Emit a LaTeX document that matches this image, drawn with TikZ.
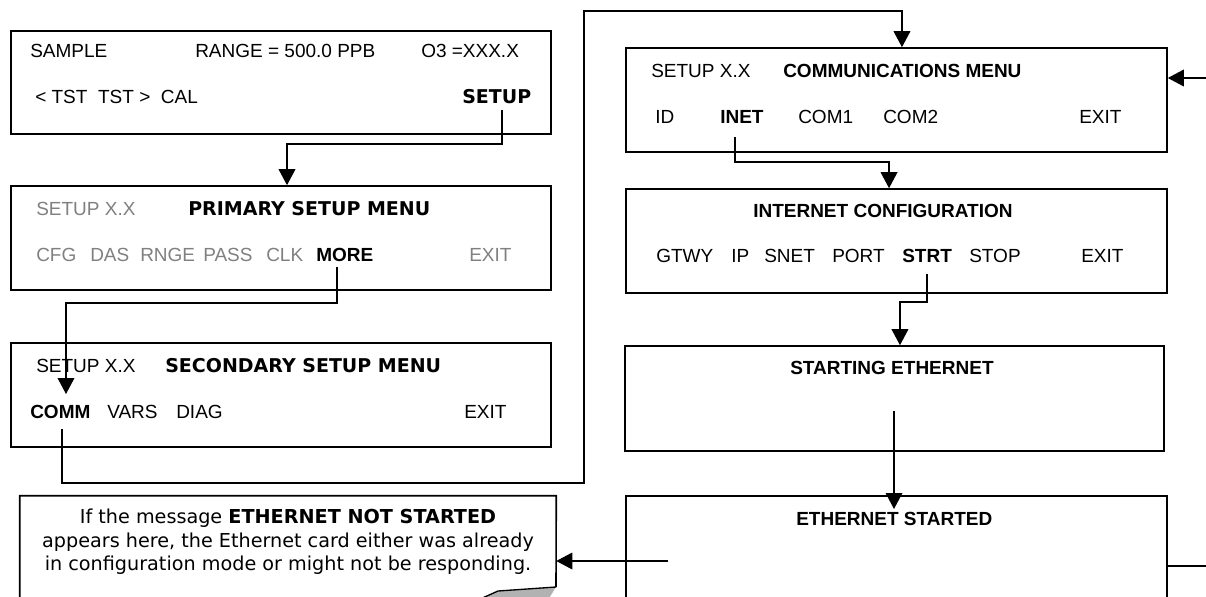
\documentclass[tikz,border=0pt]{standalone}
\usepackage{fontspec}
\setmainfont{Liberation Sans}
\newfontfamily\dv{DejaVu Sans}
\usetikzlibrary{arrows.meta,calc}
\begin{document}
\begin{tikzpicture}[x=0.75pt,y=-0.75pt,
  box/.style={draw, line width=1.2pt, inner sep=0pt},
  t/.style={anchor=base west, inner sep=0pt, font=\fontsize{14.25}{17}\selectfont},
  tb/.style={anchor=base west, inner sep=0pt, font=\fontsize{14.25}{17}\selectfont\bfseries},
  td/.style={anchor=base west, inner sep=0pt, font=\dv\fontsize{14.25}{17}\selectfont\bfseries},
  tg/.style={t, text=black!50},
  nt/.style={anchor=base, inner sep=0pt, font=\dv\fontsize{14.4}{17}\selectfont},
  arr/.style={line width=1pt, -{Triangle[length=12pt,width=12.5pt]}},
  ln/.style={line width=1pt}]
\clip (0,0) rectangle (1206,596);
\fill[white] (0,0) rectangle (1206,596);

% boxes
\node[box, minimum width=405pt, minimum height=77.25pt] (sample) at (281,82.5) {};
\node[box, minimum width=405pt, minimum height=78pt] (primary) at (281,238) {};
\node[box, minimum width=405pt, minimum height=78pt] (secondary) at (281,395) {};
\node[box, minimum width=405.75pt, minimum height=78pt] (comm) at (896.5,100) {};
\node[box, minimum width=405.75pt, minimum height=78pt] (inet) at (896.5,241) {};
\node[box, minimum width=404.25pt, minimum height=78.75pt] (start) at (894.5,398.5) {};
\node[box, minimum width=405.75pt, minimum height=90pt] (started) at (896.5,556) {};
\node[inner sep=0pt, minimum width=402pt, minimum height=78pt] (note) at (288,548) {};
\draw[line width=1.2pt] (note.south west) -- (note.north west) -- (note.north east) -- (556,587);
\fill[black!30] (556,587) -- (498,591) -- (478,600) -- (548,600) -- cycle;
\draw[line width=1pt] (556,587) -- (498,591) -- (478,600);

% SAMPLE box
\node[t] (k1) at (30,57) {SAMPLE};
\node[t] (k2) at (195,57) {RANGE = 500.0 PPB};
\node[t] (k3) at (421,57) {O3 =XXX.X};
\node[t] (k4) at (35,103) {<~TST~~TST~>~~CAL};
\node[td] (k5) at (462,103) {SETUP};

% PRIMARY box
\node[tg] (p1) at (36,215) {SETUP X.X};
\node[td] (p2) at (188,215) {PRIMARY SETUP MENU};
\node[tg] (p3) at (36,261) {CFG};
\node[tg] (p4) at (90,261) {DAS};
\node[tg] (p5) at (140,261) {RNGE};
\node[tg] (p6) at (203,261) {PASS};
\node[tg] (p7) at (266,261) {CLK};
\node[tb] (p8) at (316,261) {MORE};
\node[tg] (p9) at (469,261) {EXIT};

% SECONDARY box
\node[t] (q1) at (36,372) {SETUP X.X};
\node[td] (q2) at (165,372) {SECONDARY SETUP MENU};
\node[tb] (q3) at (30,418) {COMM};
\node[t] (q4) at (107,418) {VARS};
\node[t] (q5) at (176,418) {DIAG};
\node[t] (q6) at (464,418) {EXIT};

% COMMUNICATIONS box
\node[t] (c1) at (651,77) {SETUP X.X};
\node[tb] (c2) at (783,77) {COMMUNICATIONS MENU};
\node[t] (c3) at (655,123) {ID};
\node[tb] (c4) at (720,123) {INET};
\node[t] (c5) at (798,123) {COM1};
\node[t] (c6) at (883,123) {COM2};
\node[t] (c7) at (1079,123) {EXIT};

% INTERNET CONFIGURATION box
\node[tb] (i1) at (753,217) {INTERNET CONFIGURATION};
\node[t] (i2) at (656,262) {GTWY};
\node[t] (i3) at (731,262) {IP};
\node[t] (i4) at (764,262) {SNET};
\node[t] (i5) at (832,262) {PORT};
\node[tb] (i6) at (902,262) {STRT};
\node[t] (i7) at (969,262) {STOP};
\node[t] (i8) at (1081,262) {EXIT};

% STARTING / STARTED
\node[tb] (e1) at (790,374) {STARTING ETHERNET};
\node[tb] (e2) at (796,525) {ETHERNET STARTED};

% note text
\node[nt] (n1) at (288,523) {If the message \textbf{ETHERNET NOT STARTED}};
\node[nt] (n2) at (288,547) {appears here, the Ethernet card either was already};
\node[nt] (n3) at (288,570) {in configuration mode or might not be responding.};

% connectors
\coordinate (s1) at (502,110);
\draw[arr] (s1) -- ++(0,34) -| ([xshift=4.5pt]primary.north);
\coordinate (s2) at (337,267);
\coordinate (t2) at (66,394);
\draw[arr] (s2) -- ++(0,36) -| (t2);
\coordinate (s3) at (62,429);
\draw[arr] (s3) -- ++(0,54) -- ++(522,0) -- ++(0,-472) -| ([xshift=4.1pt]comm.north);
\coordinate (s4) at (735,137);
\draw[arr] (s4) -- ++(0,25) -| ([xshift=-5.6pt]inet.north);
\coordinate (s5) at (927,274);
\draw[arr] (s5) -- ++(0,28) -| ([xshift=4.1pt]start.north);
\coordinate (s6) at (894,411);
\coordinate (t6) at (894,509);
\draw[arr] (s6) -- (t6);
\coordinate (s7) at (668,561);
\draw[arr] (s7) -- (s7 -| note.east);
\coordinate (s8) at (1206,78);
\draw[arr] (s8) -- (s8 -| comm.east);
\coordinate (s9) at (1206,566);
\draw[ln] (started.east |- s9) -- (s9);
\end{tikzpicture}
\end{document}
